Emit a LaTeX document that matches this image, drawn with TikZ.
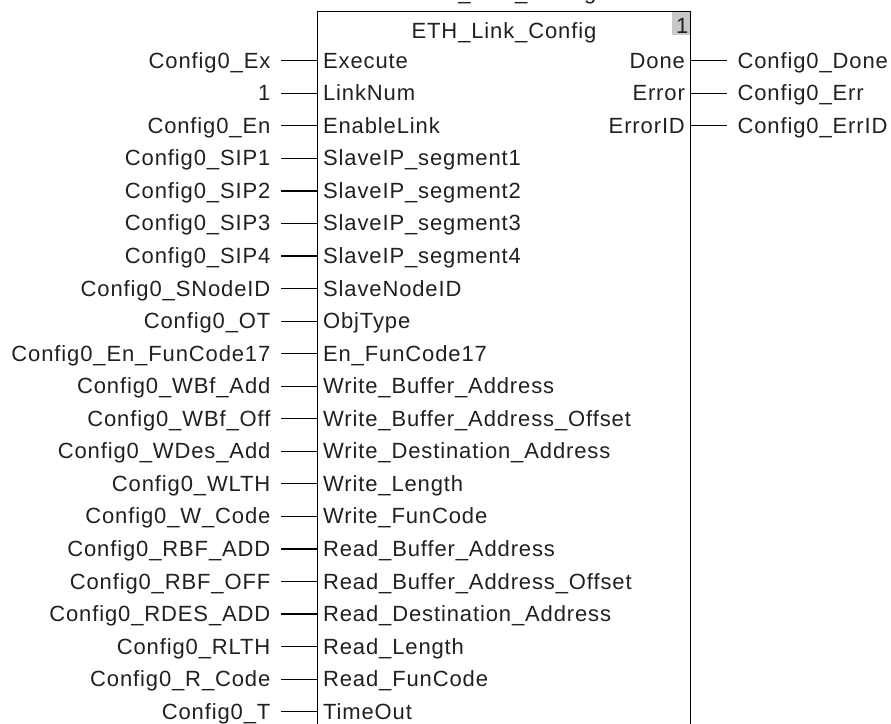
\documentclass[tikz,border=0pt]{standalone}
\usepackage{fontspec}
\setmainfont{Liberation Sans}[LetterSpace=4]
\usepackage{tikz}
\usetikzlibrary{positioning}

\definecolor{fbtext}{RGB}{35,31,32}
\definecolor{fbgray}{RGB}{200,200,200}

\begin{document}
\begin{tikzpicture}[x=1pt,y=-1pt,line width=1.2pt,
  every node/.style={text=fbtext,font=\fontsize{22}{26}\selectfont,text height=16pt,text depth=1pt},
  pinname/.style={inner xsep=5pt,inner ysep=0pt},
  varname/.style={inner xsep=10pt,inner ysep=0pt}]
\useasboundingbox (0,0) rectangle (891,723);
% instance name, cut by the page
\node[anchor=base] (inst) at (504,-1) {ETH\_Link\_Config};
% function block
\fill[fbgray] (672,11.5) rectangle (690.5,35);
\draw (317.5,11.5) rectangle (690.5,745);
\node[anchor=base] (title) at (504,38.3) {ETH\_Link\_Config};
\node[anchor=base east,inner sep=1pt] (num) at (690,33) {1};
% inputs
\foreach \var/\pin [count=\i from 0] in {
  Config0\_Ex/Execute, 1/LinkNum, Config0\_En/EnableLink,
  Config0\_SIP1/SlaveIP\_segment1, Config0\_SIP2/SlaveIP\_segment2,
  Config0\_SIP3/SlaveIP\_segment3, Config0\_SIP4/SlaveIP\_segment4,
  Config0\_SNodeID/SlaveNodeID, Config0\_OT/ObjType,
  Config0\_En\_FunCode17/En\_FunCode17,
  Config0\_WBf\_Add/Write\_Buffer\_Address,
  Config0\_WBf\_Off/Write\_Buffer\_Address\_Offset,
  Config0\_WDes\_Add/Write\_Destination\_Address,
  Config0\_WLTH/Write\_Length, Config0\_W\_Code/Write\_FunCode,
  Config0\_RBF\_ADD/Read\_Buffer\_Address,
  Config0\_RBF\_OFF/Read\_Buffer\_Address\_Offset,
  Config0\_RDES\_ADD/Read\_Destination\_Address,
  Config0\_RLTH/Read\_Length, Config0\_R\_Code/Read\_FunCode,
  Config0\_T/TimeOut}{
  \coordinate (lin\i) at (281,{60.7+32.55*\i});
  \node[pinname,anchor=west] (pin\i) at (317.5,{60.7+32.55*\i}) {\pin};
  \node[varname,left=0pt of lin\i] (var\i) {\var};
  \draw (var\i) -- (pin\i);
}
% outputs
\foreach \pin/\var [count=\i from 0] in {
  Done/Config0\_Done, Error/Config0\_Err, ErrorID/Config0\_ErrID}{
  \coordinate (rout\i) at (727,{60.7+32.55*\i});
  \node[pinname,anchor=east] (out\i) at (690.5,{60.7+32.55*\i}) {\pin};
  \node[varname,right=0pt of rout\i] (res\i) {\var};
  \draw (out\i) -- (res\i);
}
\end{tikzpicture}
\end{document}
